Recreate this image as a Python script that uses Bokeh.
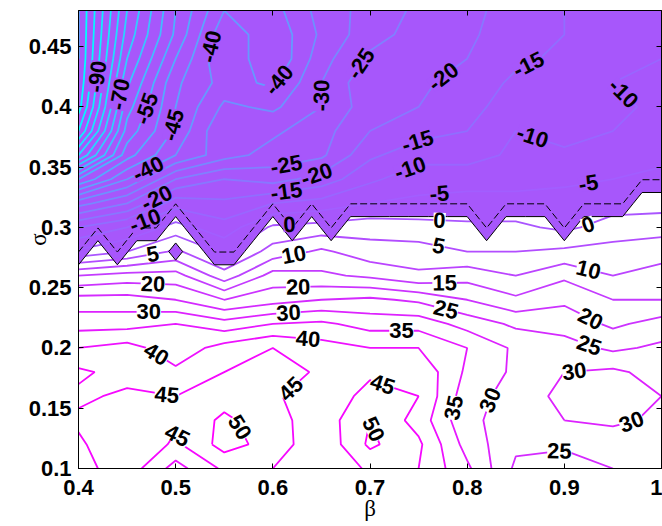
import math
import numpy as np
import contourpy
from bokeh.plotting import figure
from bokeh.models import (LinearAxis, Range1d, FixedTicker, CustomJSTickFormatter,
                          ColumnDataSource)
from bokeh.core.properties import value
from bokeh.embed import file_html
from bokeh.resources import INLINE

# ---------------- data ----------------
beta = [0.40, 0.45, 0.50, 0.55, 0.60, 0.65, 0.70, 0.75, 0.80, 0.85, 0.90, 0.95, 1.00]
sigma_rows = [0.48, 0.46, 0.44, 0.42, 0.40, 0.38, 0.36, 0.34, 0.32, 0.30,
              0.28, 0.26, 0.24, 0.22, 0.20, 0.18, 0.16, 0.14, 0.12, 0.10]
z_rows = [
    [-105, -75, -55, -40, -42, -33, -28, -24, -22, -17, -15, -13, -12],
    [-105, -73, -54, -36, -44, -34, -27, -23, -21, -17, -15, -12, -11],
    [-105, -70, -50, -35, -45, -32, -24, -22, -20, -16, -14, -11, -10],
    [-104, -66, -46, -38, -41, -30, -21, -21, -18, -14, -11, -10, -9],
    [-102, -62, -45, -34, -36, -30, -22, -20, -17, -12, -15, -11, -9],
    [-95, -58, -44, -30, -31, -27, -20, -17, -15, -10, -12, -10, -8],
    [-80, -52, -40, -32, -28, -26, -16, -12, -12, -9, -9, -8, -6],
    [-55, -40, -25, -20, -22, -18, -11, -7, -7, -7, -6, -5, -4],
    [-32, -25, -12, -14, -10, -8, -5, -4, -3, -3, -3, -2, -2],
    [-15, -10, -3, -8, 1, 2, 3, 2, 1, 1, -1, 2, 3],
    [-4, 0, 6, -1, 7, 11, 7, 7, 5, 5, 6, 7, 8],
    [15, 17, 17, 7, 17, 16, 14, 11, 13, 10, 14, 10, 12],
    [27, 27, 25, 20, 23, 25, 26, 24, 20, 16, 19, 15, 15],
    [33, 33, 35, 32, 35, 36, 33, 33, 28, 24, 23, 19, 22],
    [40, 42, 37, 42, 45, 42, 40, 40, 35, 29, 27, 24, 26],
    [46, 43, 41, 45, 48, 44, 44, 44, 34, 29, 30, 31, 28],
    [44, 46, 45, 48, 46, 41, 47, 45, 32, 28, 31, 32, 30],
    [46, 47, 46, 51, 47, 42, 50, 43, 31, 28, 30, 31, 29],
    [44, 50, 44, 52, 48, 41, 51, 46, 33, 26, 26, 27, 28],
    [43, 48, 38, 46, 45, 40, 46, 45, 36, 24, 22, 25, 26],
]

# shaded region: lowest shaded sigma for each beta node
mask_beta = [0.40, 0.42, 0.44, 0.46, 0.48, 0.50, 0.52, 0.54, 0.56, 0.58,
             0.60, 0.62, 0.64, 0.66, 0.68, 0.70, 0.72, 0.74, 0.76, 0.78,
             0.80, 0.82, 0.84, 0.86, 0.88, 0.90, 0.92, 0.94, 0.96, 0.98, 1.00]
mask_edge = [0.28, 0.30, 0.28, 0.30, 0.30, 0.32, 0.30, 0.28, 0.28, 0.30,
             0.32, 0.30, 0.32, 0.30, 0.32, 0.32, 0.32, 0.32, 0.32, 0.32,
             0.32, 0.30, 0.32, 0.32, 0.32, 0.30, 0.32, 0.32, 0.32, 0.34, 0.34]
island_beta = [0.50]
island_sigma = [0.28]
island_level = [0.7]

x_ticks = [0.4, 0.5, 0.6, 0.7, 0.8, 0.9, 1.0]
y_ticks = [0.1, 0.15, 0.2, 0.25, 0.3, 0.35, 0.4, 0.45]
contour_levels = list(range(-105, 55, 5))
color_min, color_max = -100, 50

# ---------------- grids ----------------
sig = np.array(sigma_rows)[::-1]
Z = np.array(z_rows, dtype=float)[::-1]
bx = np.array(beta)

mb = np.array(mask_beta)
me = np.array(mask_edge)
M = (sig[:, None] >= me[None, :] - 1e-9).astype(float)
for ib, isg, iv in zip(island_beta, island_sigma, island_level):
    M[np.argmin(np.abs(sig - isg)), np.argmin(np.abs(mb - ib))] = iv

FILL = "#a757fb"
LOW_LEVEL, HIGH_LEVEL = 0.45, 0.98


def cool(level):
    t = min(max((level - color_min) / (color_max - color_min), 0.0), 1.0)
    return "#%02x%02x%02x" % (int(round(255 * t)), int(round(255 * (1 - t))), 255)


line_colors = [cool(l) for l in contour_levels]

W, H = 662, 526
L_B, R_B, T_B, B_B = 78, 1, 10, 58
X0, X1, Y0, Y1 = 0.4, 1.0, 0.1, 0.48

p = figure(width=W, height=H, output_backend="svg", toolbar_location=None,
           x_range=Range1d(X0, X1), y_range=Range1d(Y0, Y1),
           min_border_left=L_B, min_border_right=R_B, min_border_top=T_B,
           min_border_bottom=B_B, background_fill_color="white",
           border_fill_color="white")
p.grid.visible = False
p.outline_line_color = "black"
p.outline_line_width = 1

# shaded region
p.contour(x=mb, y=sig, z=M, levels=[LOW_LEVEL, 2.0], fill_color=FILL, line_color=None)

# value contours
p.contour(x=bx, y=sig, z=Z, levels=contour_levels, line_color=line_colors, line_width=1.8)

# boundary lines of shaded region
p.contour(x=mb, y=sig, z=M, levels=[LOW_LEVEL], line_color="black", line_width=1)
p.contour(x=mb, y=sig, z=M, levels=[HIGH_LEVEL], line_color="black", line_width=1,
          line_dash="7 3")

# ---------------- inline contour labels ----------------
fw = W - L_B - R_B
fh = H - T_B - B_B
sx = fw / (X1 - X0)
sy = fh / (Y1 - Y0)
BX, BY = np.meshgrid(bx, sig)
gen = contourpy.contour_generator(BX, BY, Z)
boundary = me - 0.02 + 0.02 * LOW_LEVEL

placed = []
lab = {"white": dict(x=[], y=[], t=[], a=[]), "fill": dict(x=[], y=[], t=[], a=[])}
spacing = 125.0
for lev in contour_levels:
    for seg in gen.lines(lev):
        seg = np.asarray(seg)
        if len(seg) < 2:
            continue
        P = np.column_stack(((seg[:, 0] - X0) * sx, (seg[:, 1] - Y0) * sy))
        d = np.hypot(np.diff(P[:, 0]), np.diff(P[:, 1]))
        s = np.concatenate([[0.0], np.cumsum(d)])
        total = s[-1]
        if total < 40:
            continue
        n = max(1, int(total // spacing))
        for k in range(n):
            pos = (k + 0.5) * total / n
            px = np.interp(pos, s, P[:, 0])
            py = np.interp(pos, s, P[:, 1])
            if not (14 < px < fw - 12 and 10 < py < fh - 10):
                continue
            if any(math.hypot(px - qx, py - qy) < 25 for qx, qy in placed):
                continue
            p1 = max(pos - 12, 0.0)
            p2 = min(pos + 12, total)
            dx = np.interp(p2, s, P[:, 0]) - np.interp(p1, s, P[:, 0])
            dy = np.interp(p2, s, P[:, 1]) - np.interp(p1, s, P[:, 1])
            ang = math.atan2(dy, dx)
            if ang > math.pi / 2:
                ang -= math.pi
            if ang < -math.pi / 2:
                ang += math.pi
            placed.append((px, py))
            xd = X0 + px / sx
            yd = Y0 + py / sy
            key = "fill" if yd > np.interp(xd, mb, boundary) else "white"
            lab[key]["x"].append(xd)
            lab[key]["y"].append(yd)
            lab[key]["t"].append(str(lev))
            lab[key]["a"].append(ang)

for key, bg in (("white", "white"), ("fill", FILL)):
    src = ColumnDataSource(lab[key])
    p.text(x="x", y="y", text="t", angle="a", source=src,
           text_font=value("Liberation Sans"), text_font_style="bold",
           text_font_size="22px", text_align="center", text_baseline="middle",
           text_color="black", background_fill_color=bg)

# ---------------- axes ----------------
fmt = CustomJSTickFormatter(code="return String(Number(tick.toFixed(2)));")
for ax, ticks in ((p.xaxis[0], x_ticks), (p.yaxis[0], y_ticks)):
    ax.ticker = FixedTicker(ticks=ticks)
    ax.formatter = fmt
    ax.major_tick_in = 5
    ax.major_tick_out = 0
    ax.minor_tick_line_color = None
    ax.axis_line_color = "black"
    ax.major_label_text_font = "Liberation Sans"
    ax.major_label_text_font_style = "bold"
    ax.major_label_text_font_size = "22px"
    ax.major_label_text_color = "black"
    ax.axis_label_text_font = "Liberation Serif"
    ax.axis_label_text_font_style = "normal"
    ax.axis_label_text_font_size = "23px"
    ax.axis_label_text_color = "black"

p.xaxis[0].axis_label = "β"
p.xaxis[0].major_label_standoff = 11
p.xaxis[0].axis_label_standoff = -2
p.yaxis[0].axis_label = "σ"
p.yaxis[0].major_label_standoff = 7
p.yaxis[0].axis_label_standoff = -25

blank = CustomJSTickFormatter(code="return '';")
for loc, ticks in (("above", x_ticks), ("right", y_ticks)):
    ax = LinearAxis(ticker=FixedTicker(ticks=ticks), formatter=blank,
                    major_tick_in=5, major_tick_out=0,
                    minor_tick_line_color=None, major_label_text_font_size="1px",
                    major_label_standoff=0, axis_line_color="black")
    p.add_layout(ax, loc)

open("out.html", "w").write(file_html(p, INLINE))
